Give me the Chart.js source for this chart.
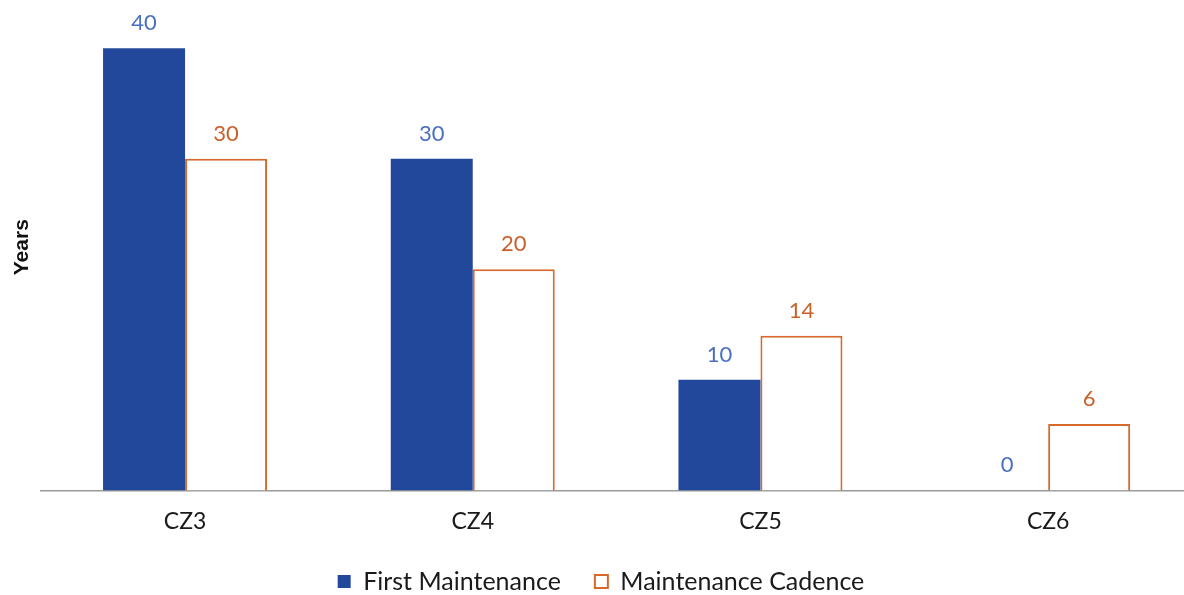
<!DOCTYPE html>
<html>
<head>
<meta charset="utf-8">
<script src="https://cdn.jsdelivr.net/npm/chart.js@4"></script>
<style>
  html, body { margin: 0; padding: 0; background: #fff; overflow: hidden; }
  #wrap { position: absolute; left: 0; top: 0; width: 1194px; height: 595px; }
</style>
</head>
<body>
<div id="wrap"><canvas id="maintChart"></canvas></div>
<script>
// climate zones and years per series
const zones = ['CZ3', 'CZ4', 'CZ5', 'CZ6'];
const firstMaintenance = [40, 30, 10, 0];
const maintenanceCadence = [30, 20, 14, 6];

const blueBar = '#22489b';
const blueText = '#4a70c2';
const orangeLine = '#d8692c';
const orangeText = '#c9602a';

// writes the value over each bar, using the bar positions from the chart
const valueLabels = {
  id: 'valueLabels',
  afterDatasetsDraw(chart) {
    const c = chart.ctx;
    c.save();
    c.font = '22px Lato';
    c.textAlign = 'center';
    c.textBaseline = 'bottom';
    chart.data.datasets.forEach((ds, i) => {
      const meta = chart.getDatasetMeta(i);
      c.fillStyle = ds.labelColor;
      meta.data.forEach((bar, j) => {
        c.fillText(String(ds.data[j]), bar.x, bar.y - 14);
      });
    });
    c.restore();
  }
};

const ctx = document.getElementById('maintChart');

new Chart(ctx, {
  type: 'bar',
  data: {
    labels: zones,
    datasets: [
      {
        label: 'First Maintenance',
        data: firstMaintenance,
        backgroundColor: blueBar,
        borderWidth: 0,
        labelColor: blueText
      },
      {
        label: 'Maintenance Cadence',
        data: maintenanceCadence,
        backgroundColor: '#ffffff',
        borderColor: orangeLine,
        borderWidth: 2,
        labelColor: orangeText
      }
    ]
  },
  options: {
    responsive: true,
    maintainAspectRatio: false,
    animation: false,
    // wide legend padding spreads the two items; the negative bottom pulls the box back down
    layout: { padding: { top: 4, left: 10, right: 2, bottom: -9 } },
    datasets: {
      bar: { categoryPercentage: 0.57, barPercentage: 1 }
    },
    plugins: {
      legend: {
        position: 'bottom',
        labels: {
          color: '#1a1a1a',
          font: { family: 'Lato', size: 25 },
          boxWidth: 13,
          boxHeight: 13,
          padding: 34
        }
      },
      tooltip: { enabled: false }
    },
    scales: {
      x: {
        grid: { display: false, drawTicks: false },
        border: { display: true, color: '#9a9a9a', width: 1.5 },
        ticks: {
          color: '#1a1a1a',
          font: { family: 'Lato', size: 23 },
          padding: 17
        },
        // let the legend sit a bit closer under the zone names
        afterFit(scale) {
          scale.height -= 17;
        }
      },
      y: {
        min: 0,
        max: 44,
        grid: { display: false, drawTicks: false },
        border: { display: false },
        ticks: { display: false },
        title: {
          display: true,
          text: 'Years',
          color: '#111',
          font: { family: 'Liberation Sans', size: 21, weight: 'bold' },
          padding: { top: 0, bottom: 6 }
        }
      }
    }
  },
  plugins: [valueLabels]
});
</script>
</body>
</html>
